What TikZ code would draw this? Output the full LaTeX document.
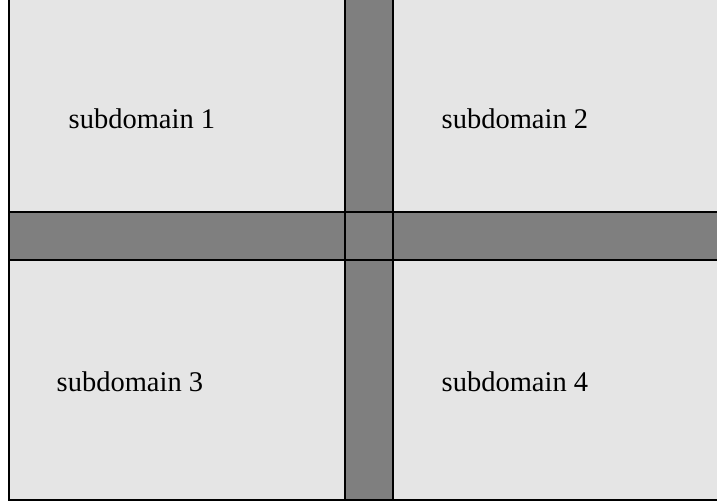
\documentclass[tikz,border=0pt]{standalone}
\usepackage{fontspec}
\setmainfont{Liberation Serif}
\definecolor{domfill}{RGB}{229,229,229}
\definecolor{barfill}{RGB}{127,127,127}
\tikzset{
  subdom/.style={fill=domfill, draw=black, line width=1.5pt},
  overlapbar/.style={fill=barfill, draw=black, line width=1.5pt},
  domlabel/.style={anchor=base west, inner sep=0pt, font=\fontsize{28.5}{32}\selectfont}
}
\begin{document}
\begin{tikzpicture}[x=1pt,y=-1pt]
\useasboundingbox (0,0) rectangle (717,502);
\clip (0,0) rectangle (717,502);
\fill[white] (0,0) rectangle (717,502);
\draw[subdom] (9,-20) rectangle (740,500);
\draw[overlapbar] (9,212) rectangle (740,260);
\draw[overlapbar] (345,-20) rectangle (393,500);
\draw[overlapbar] (345,212) rectangle (393,260);
\node[domlabel] (s1) at (68.5,128.5) {subdomain 1};
\node[domlabel] (s2) at (441.5,128.5) {subdomain 2};
\node[domlabel] (s3) at (56.5,391) {subdomain 3};
\node[domlabel] (s4) at (441.5,391) {subdomain 4};
\end{tikzpicture}
\end{document}
